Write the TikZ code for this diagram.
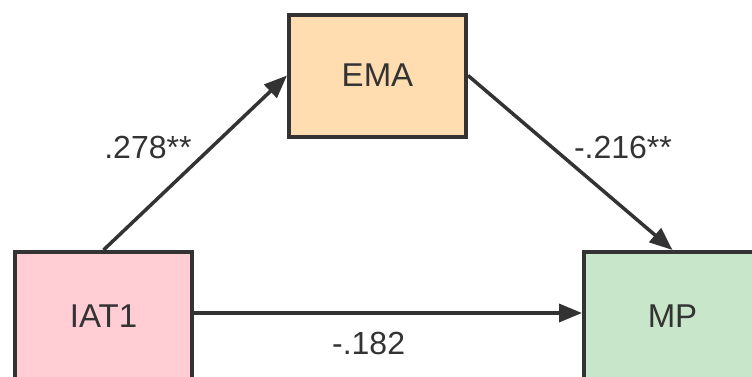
\documentclass[tikz,border=0pt]{standalone}
\usepackage{fontspec}
\setmainfont{Liberation Sans}
\usetikzlibrary{arrows.meta}

\definecolor{ink}{HTML}{333333}
\definecolor{pinkfill}{HTML}{FFCDD3}
\definecolor{peachfill}{HTML}{FFDDB1}
\definecolor{greenfill}{HTML}{C8E6C9}

\begin{document}
\begin{tikzpicture}[x=1pt, y=1pt, node distance={569pt},
  var/.style = {draw=ink, line width=4pt, minimum width=177pt, minimum height=122pt, text=ink, font=\fontsize{33}{38}\selectfont},
  path/.style = {draw=ink, line width=3.5pt, -{Triangle[length=23pt, width=18pt]}},
  coef/.style = {text=ink, inner sep=2pt, font=\fontsize{32}{36}\selectfont}]
\useasboundingbox (0,0) rectangle (752,376);
\clip (0,0) rectangle (752,376);
\node[var, fill=pinkfill, minimum height=128pt] (iat) at (103.5,60) {IAT1};
\node[var, fill=greenfill, minimum height=128pt] (mp) [right of=iat] {MP};
\node[var, fill=peachfill] (ema) at (377.5,300.5) {EMA};
\draw[path] (iat.north) to node[coef, midway, above left]{.278**} (ema.west);
\draw[path] (ema.east) to node[coef, midway, above right]{-.216**} (mp.north);
\draw[path] (iat.east |- 0,63) to node[coef, pos=0.45, below=15pt]{-.182} (mp.west |- 0,63);
\end{tikzpicture}
\end{document}
